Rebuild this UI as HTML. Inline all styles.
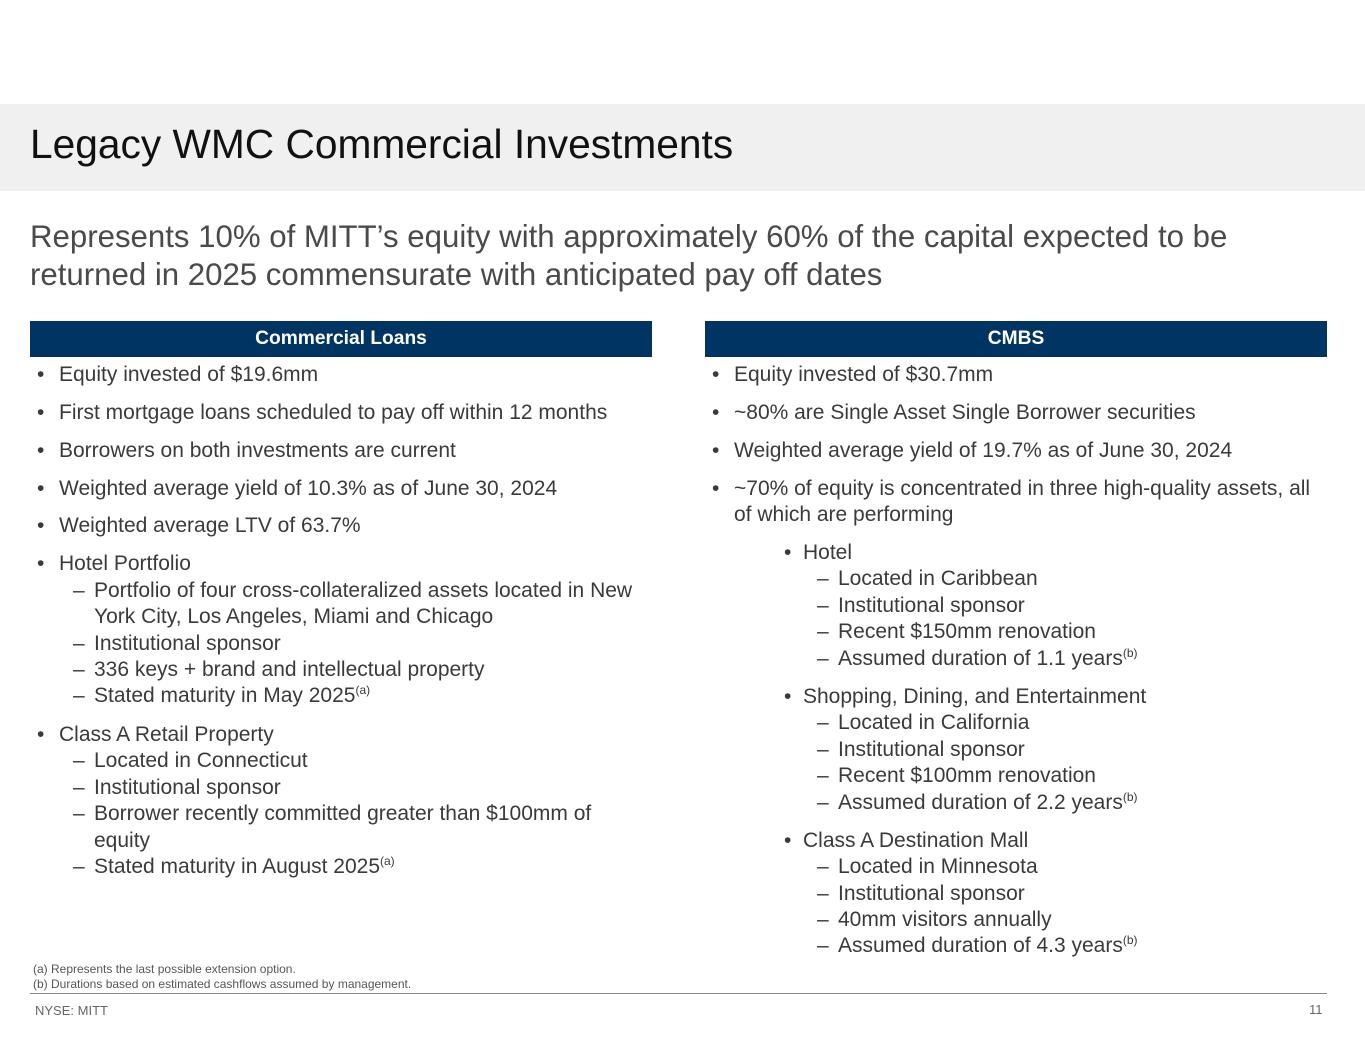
<!DOCTYPE html>
<html><head><meta charset="utf-8">
<style>
body{margin:0;width:1365px;height:1055px;background:#fff;position:relative;overflow:hidden;font-family:"Liberation Sans",Arial,sans-serif;color:#3a3a3a}
.a{position:absolute;white-space:nowrap}
.l{position:absolute;white-space:nowrap;font-size:21px;line-height:24px;height:24px}
sup{font-size:12px;vertical-align:8px;line-height:0}
.bar{position:absolute;top:321px;height:36px;background:#003462;color:#fff;font-weight:bold;font-size:19.2px;line-height:36px;text-align:center}
</style></head><body>
<div class="a" style="left:0;top:104px;width:1365px;height:87px;background:#f0f0f0"></div>
<div class="a" style="left:30px;top:120px;font-size:40.7px;line-height:48px;color:#111">Legacy WMC Commercial Investments</div>
<div class="a" style="left:30px;top:218px;font-size:31.2px;line-height:38px;color:#4a4a4a">Represents 10% of MITT’s equity with approximately 60% of the capital expected to be<br>returned in 2025 commensurate with anticipated pay off dates</div>
<div class="bar" style="left:30px;width:622px">Commercial Loans</div>
<div class="bar" style="left:705px;width:622px">CMBS</div>
<div id="c"></div>
<div class="a" style="left:33px;top:962px;font-size:12px;line-height:15px;color:#555">(a) Represents the last possible extension option.<br>(b) Durations based on estimated cashflows assumed by management.</div>
<div class="a" style="left:30px;top:993px;width:1297px;height:1px;background:#888"></div>
<div class="a" style="left:35px;top:1003px;font-size:13px;color:#666">NYSE: MITT</div>
<div class="a" style="left:1309px;top:1002px;font-size:13px;color:#666">11</div>
<script>
const L=[
[375,'b','Equity invested of $19.6mm'],[413,'b','First mortgage loans scheduled to pay off within 12 months'],[451,'b','Borrowers on both investments are current'],[489,'b','Weighted average yield of 10.3% as of June 30, 2024'],[526,'b','Weighted average LTV of 63.7%'],[564,'b','Hotel Portfolio'],[591,'d','Portfolio of four cross-collateralized assets located in New'],[617,'m','York City, Los Angeles, Miami and Chicago'],[644,'d','Institutional sponsor'],[670,'d','336 keys + brand and intellectual property'],[696,'d','Stated maturity in May 2025<sup>(a)</sup>'],[735,'b','Class A Retail Property'],[761,'d','Located in Connecticut'],[788,'d','Institutional sponsor'],[814,'d','Borrower recently committed greater than $100mm of'],[841,'m','equity'],[867,'d','Stated maturity in August 2025<sup>(a)</sup>']];
const R=[
[375,'b','Equity invested of $30.7mm'],[413,'b','~80% are Single Asset Single Borrower securities'],[451,'b','Weighted average yield of 19.7% as of June 30, 2024'],[489,'b','~70% of equity is concentrated in three high-quality assets, all'],[515,'n','of which are performing'],
[553,'B','Hotel'],[579,'D','Located in Caribbean'],[606,'D','Institutional sponsor'],[632,'D','Recent $150mm renovation'],[659,'D','Assumed duration of 1.1 years<sup>(b)</sup>'],
[697,'B','Shopping, Dining, and Entertainment'],[723,'D','Located in California'],[750,'D','Institutional sponsor'],[776,'D','Recent $100mm renovation'],[803,'D','Assumed duration of 2.2 years<sup>(b)</sup>'],
[841,'B','Class A Destination Mall'],[867,'D','Located in Minnesota'],[894,'D','Institutional sponsor'],[920,'D','40mm visitors annually'],[946,'D','Assumed duration of 4.3 years<sup>(b)</sup>']];
const c=document.getElementById('c');
function add(list,ox,side){
 list.forEach(([y,t,s])=>{
  const map={b:[37,59,'•'],d:[73,94,'–'],n:[0,59,''],m:[0,94,''],B:[109,128,'•'],D:[142,163,'–']};
  const [mx,tx,m]=map[t];
  if(m){const e=document.createElement('div');e.className='l';e.style.left=(ox+mx)+'px';e.style.top=(y-12)+'px';e.textContent=m;
   
   
   c.appendChild(e);}
  const e=document.createElement('div');e.className='l';e.style.left=(ox+tx)+'px';e.style.top=(y-12)+'px';e.innerHTML=s;
  
  
  c.appendChild(e);
 });
}
add(L,0,'l');add(R,675,'r');
</script>
</body></html>
